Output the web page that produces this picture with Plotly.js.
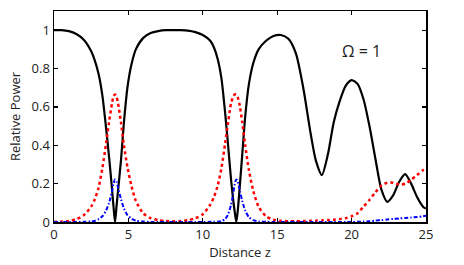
<!DOCTYPE html>
<html><head><meta charset="utf-8">
<script src="https://cdn.plot.ly/plotly-3.0.1.min.js"></script>
<style>html,body{margin:0;padding:0;background:#fff}#c{width:464px;height:265px}</style>
</head><body><div id="c"></div>
<script>
const z = [0,0.5,1,1.5,2,2.5,2.75,3,3.25,3.5,3.7,3.9,4.0,4.1,4.2,4.3,4.5,4.7,4.95,5.2,5.5,6,6.5,7,7.5,8,8.5,9,9.5,10,10.5,10.75,11,11.25,11.5,11.7,11.9,12.05,12.15,12.25,12.35,12.5,12.65,12.85,13.1,13.4,13.75,14.25,14.75,15.25,15.75,16.25,16.75,17.25,17.6,18.0,18.4,18.8,19.2,19.6,20.0,20.4,20.8,21.2,21.6,22.0,22.4,22.8,23.2,23.6,24.0,24.4,24.8,25];
const powerA = [1.0,1.0,0.995,0.98,0.95,0.89,0.84,0.77,0.66,0.49,0.34,0.17,0.08,0.0,0.08,0.16,0.32,0.52,0.71,0.82,0.9,0.96,0.985,0.995,1.0,1.0,1.0,0.998,0.99,0.975,0.945,0.91,0.85,0.75,0.57,0.40,0.22,0.11,0.05,0.0,0.06,0.2,0.35,0.55,0.72,0.83,0.9,0.945,0.97,0.975,0.955,0.88,0.70,0.46,0.32,0.245,0.35,0.52,0.63,0.71,0.74,0.72,0.64,0.50,0.33,0.17,0.105,0.14,0.21,0.25,0.2,0.13,0.08,0.07];
const powerB = [0.0,0.002,0.005,0.015,0.035,0.08,0.12,0.18,0.28,0.41,0.52,0.62,0.655,0.665,0.655,0.62,0.52,0.40,0.28,0.19,0.11,0.045,0.02,0.01,0.005,0.004,0.005,0.01,0.02,0.04,0.09,0.13,0.19,0.28,0.41,0.52,0.62,0.655,0.665,0.665,0.65,0.6,0.52,0.40,0.27,0.16,0.08,0.03,0.012,0.006,0.004,0.004,0.005,0.006,0.007,0.008,0.01,0.012,0.015,0.02,0.03,0.045,0.08,0.115,0.155,0.19,0.205,0.205,0.195,0.2,0.22,0.245,0.27,0.28];
const powerC = [0,0,0,0,0.001,0.003,0.006,0.015,0.03,0.06,0.1,0.16,0.2,0.222,0.21,0.18,0.12,0.07,0.035,0.018,0.007,0.002,0,0,0,0,0,0,0,0,0.001,0.001,0.002,0.005,0.015,0.04,0.09,0.15,0.2,0.222,0.21,0.16,0.11,0.06,0.025,0.01,0.003,0.001,0,0,0,0,0,0,0,0,0,0,0,0,0,0.001,0.002,0.004,0.007,0.01,0.013,0.016,0.019,0.021,0.023,0.026,0.03,0.032];
const xTicks = [0,5,10,15,20,25];
const yTicks = [0,0.2,0.4,0.6,0.8,1];
const yTickText = ['0','0.2','0.4','0.6','0.8','1'];

const font = {family:'Open Sans, sans-serif', size:13, color:'#222'};
const traces = [
  {x:z, y:powerA, mode:'lines', line:{color:'#000000', width:2.2, shape:'spline', smoothing:0.7}},
  {x:z, y:powerB, mode:'lines', line:{color:'#ff0000', width:2.5, dash:'dot', shape:'spline', smoothing:0.7}},
  {x:z, y:powerC, mode:'lines', line:{color:'#0000ff', width:2, dash:'4px,2px,1.5px,2px', shape:'spline', smoothing:0.7}}
];
const axisCommon = {showgrid:false, zeroline:false, showline:true, linecolor:'#000', linewidth:1.5, mirror:'ticks', ticks:'inside', ticklen:4, tickcolor:'#000', tickwidth:1.2, tickfont:font};
const layout = {
  width:464, height:265, margin:{l:54, r:38, t:11, b:43},
  paper_bgcolor:'#fff', plot_bgcolor:'#fff', showlegend:false,
  xaxis:Object.assign({}, axisCommon, {range:[0,25], tickvals:xTicks, title:{text:'Distance z', font:font, standoff:0}}),
  yaxis:Object.assign({}, axisCommon, {range:[0,1.1], tickvals:yTicks, ticktext:yTickText, title:{text:'Relative Power', font:font, standoff:8}}),
  annotations:[{xref:'paper', yref:'paper', x:0.884, y:0.872, text:'Ω = 1', showarrow:false, font:{family:'Open Sans, sans-serif', size:16, color:'#222'}}]
};
Plotly.newPlot('c', traces, layout, {displayModeBar:false, staticPlot:true});
</script></body></html>
